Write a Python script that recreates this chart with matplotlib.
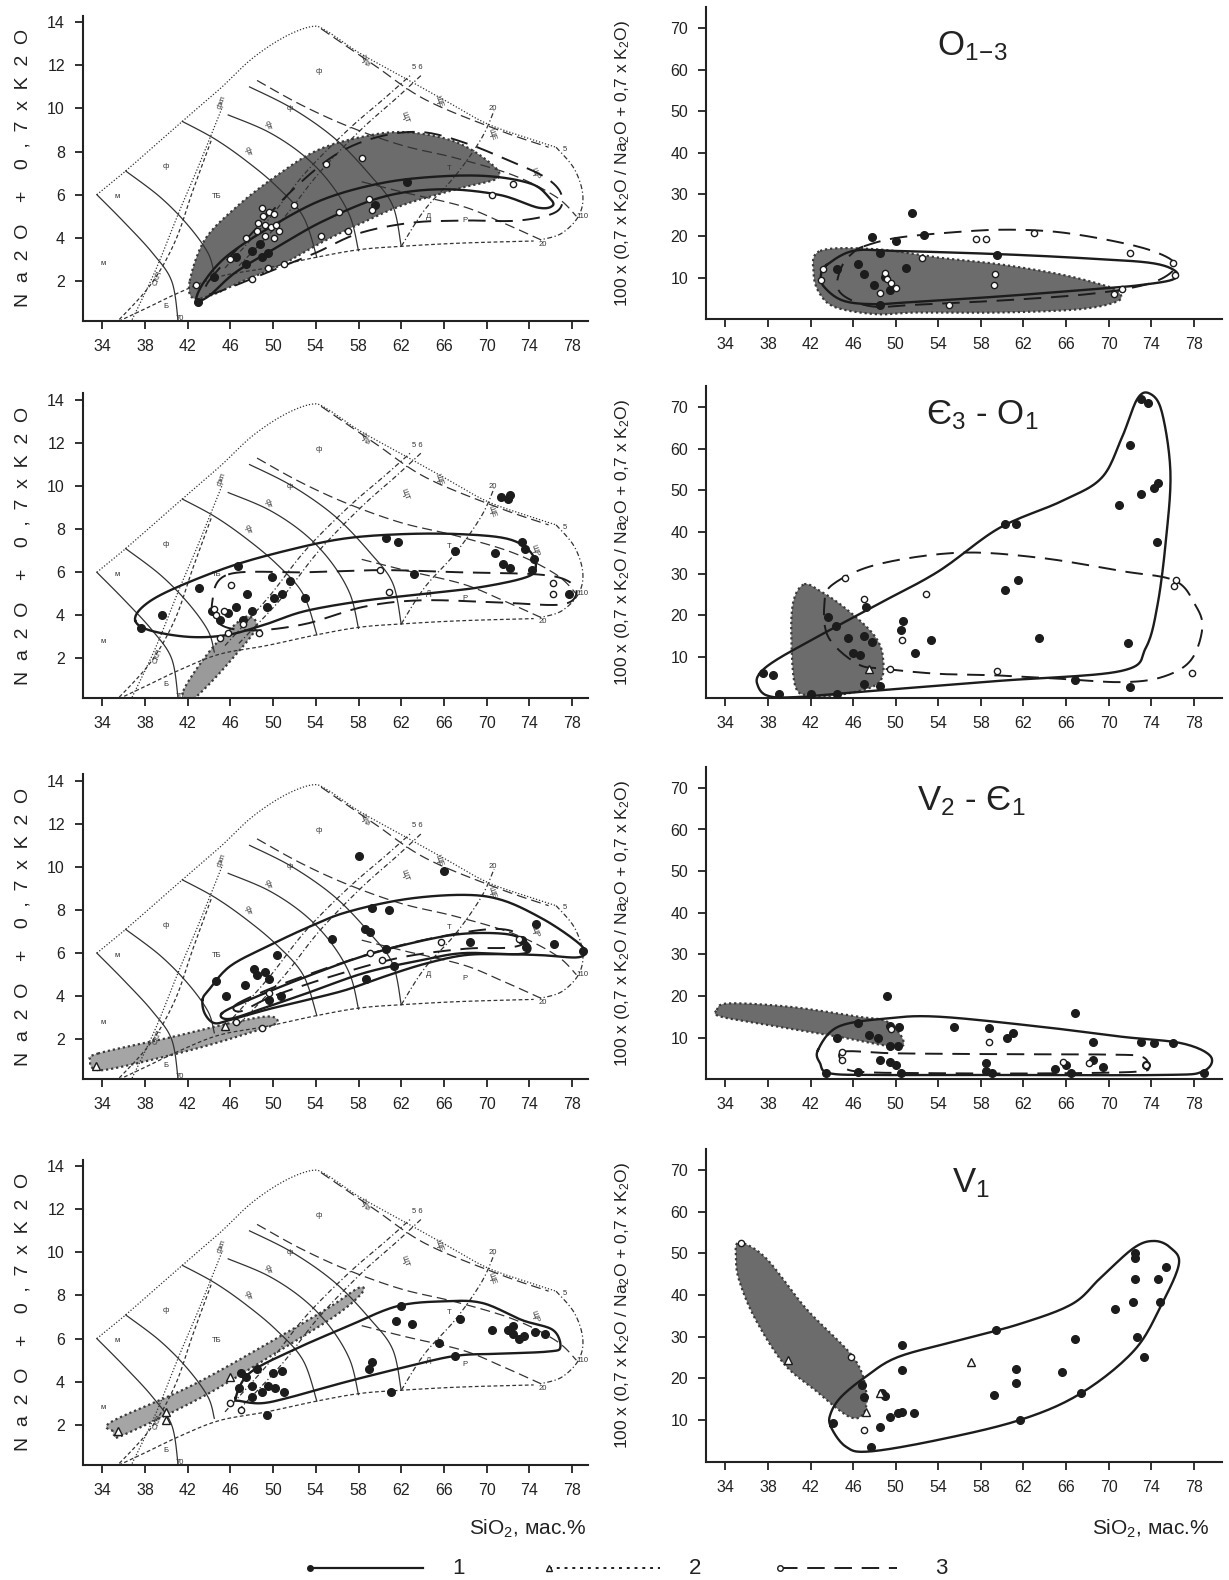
# -*- coding: utf-8 -*-
"""
Na2O+0.7K2O vs SiO2 classification plots (left) and potassium ratio vs SiO2 (right)
for four age groups: O1-3, E3-O1, V2-E1, V1.
"""

import numpy as np
import matplotlib.pyplot as plt
from matplotlib.lines import Line2D

plt.rcParams['font.family'] = ['Liberation Sans', 'DejaVu Sans']
plt.rcParams['mathtext.fontset'] = 'custom'
plt.rcParams['mathtext.rm'] = 'Liberation Sans'
plt.rcParams['mathtext.it'] = 'Liberation Sans:italic'

SIO2_TICKS = [34, 38, 42, 46, 50, 54, 58, 62, 66, 70, 74, 78]
TAS_TICKS = [2, 4, 6, 8, 10, 12, 14]
RATIO_TICKS = [10, 20, 30, 40, 50, 60, 70]
TITLES = [r'$\mathregular{O_{1\!-\!3}}$', r'$\mathregular{Є_3}$ - $\mathregular{O_1}$',
          r'$\mathregular{V_2}$ - $\mathregular{Є_1}$', r'$\mathregular{V_1}$']

# ---- classification grid (same on every left panel) ----
BOUND_UP = [(33.5, 6.0), (36.2, 7.1), (41.5, 9.4), (45, 10.9), (48, 12.3), (51, 13.3), (53.6, 13.8),
            (55, 13.6), (58, 12.6), (62, 11.5), (66, 10.4), (70, 9.3), (74, 8.6), (76.5, 8.2)]
BOUND_RIGHT = [(76.5, 8.2), (78.2, 7.2), (79.0, 6.0), (78.6, 5.0), (77.0, 4.2), (75.0, 3.9)]
BOUND_LOW = [(35, 0.0), (38, 0.7), (41.4, 1.5), (45, 2.2), (49.4, 2.6), (54.1, 3.1), (58.1, 3.45),
             (61.9, 3.6), (67.5, 3.75), (74.4, 3.85)]
ISO_1 = [(33.5, 6.0), (36.1, 4.7), (38.7, 3.3), (40.5, 2.0), (41.1, 0.2)]
ISO_2 = [(36.2, 7.1), (39.4, 5.9), (42.0, 4.6), (43.9, 3.3), (44.5, 2.3)]
ISO_3 = [(41.5, 9.4), (44.5, 8.6), (47.4, 7.6), (50.3, 6.4), (52.8, 5.0), (54.1, 3.1)]
ISO_4 = [(45.8, 9.7), (49.6, 8.9), (52.9, 7.8), (55.4, 6.5), (57.2, 5.0), (58.0, 3.4)]
ISO_5 = [(47.8, 11.0), (51.8, 10.0), (55.8, 8.6), (59.1, 6.9), (61.2, 5.5), (62.0, 3.6)]
LDASH_A = [(54.5, 13.7), (59.5, 12.0), (64.3, 10.4), (71.1, 9.0), (75.8, 8.2)]
LDASH_B = [(48.5, 11.3), (52.5, 10.2), (56.9, 9.2), (62, 8.3), (67.1, 7.7), (72.5, 6.9), (76.5, 5.9), (78.4, 5.0)]
LDASH_C = [(58.3, 6.6), (62.3, 6.1), (67.8, 5.45), (71.5, 4.7), (75.1, 3.9)]
DOT_DIAG = [(36.8, 0.2), (39.0, 2.5), (41.2, 5.2), (43.0, 7.3), (45.2, 10.0)]
SDASH_DIAG = [(35.2, 0.0), (38.5, 1.8), (40.8, 3.8), (42.5, 6.2), (44.2, 8.5)]
DASHDOT_A = [(45.5, 2.6), (49.5, 4.8), (53, 7.0), (57, 9.0), (60.5, 10.5), (63, 11.6)]
DASHDOT_B = [(46.8, 2.7), (50.8, 4.8), (54.3, 7.0), (58.2, 9.0), (61.6, 10.5), (64, 11.6)]
DASHDOT_C = [(62, 3.6), (64.2, 5.3), (67.1, 6.9), (69.5, 8.6), (70.7, 9.9)]
GRID_TEXT = ['м', 'м', 'ф', 'ТБ', 'фт', 'фт', 'ф', 'ф', 'ЩФ', 'ЩТ', 'ЩЕ', 'ЩЕ', 'ЩР', 'Т', 'Д', 'Р',
             'фкп', 'СКП', 'Б', '70', '5', '110', '20', '20', '5 6']
GRID_TEXT_X = [35.4, 34.1, 40.0, 44.7, 47.6, 49.5, 51.6, 54.3, 58.5, 62.3, 65.5, 70.5, 74.5, 66.5, 64.6, 68.0,
               45.2, 39.2, 40.0, 41.3, 77.3, 79.0, 75.3, 70.6, 63.5]
GRID_TEXT_Y = [5.9, 2.8, 7.3, 5.9, 8.0, 9.2, 10.0, 11.7, 12.2, 9.6, 10.3, 8.8, 7.0, 7.2, 5.0, 4.8,
               10.3, 2.1, 0.8, 0.25, 8.1, 5.0, 3.7, 10.0, 11.9]
GRID_TEXT_ROT = [0, 0, 0, 0, -70, -70, 0, 0, -70, -70, -70, -70, -70, 0, 0, 0, 70, 70, 0, 0, 0, 0, 0, 0, 0]

# ---- panel 1 : O1-3 ----
P1_FIELD = [(42.2, 2.0), (43.6, 3.9), (46.5, 5.4), (50.1, 6.8), (54.1, 8.05), (58.5, 8.7), (62.4, 8.9),
            (66.8, 8.5), (70.0, 7.6), (71.1, 6.8), (67.5, 6.3), (62.4, 5.56), (58.8, 4.8), (54.8, 3.85),
            (50.8, 2.75), (47.2, 2.0), (44.3, 1.35), (42.5, 1.2)]
P1_SOLID = [(42.8, 1.1), (43.6, 2.0), (45.8, 3.2), (50.1, 4.6), (54.8, 5.8), (60.3, 6.55), (65.7, 6.85),
            (70.4, 6.85), (74.2, 6.5), (75.8, 5.9), (76.2, 5.5), (74.8, 5.4), (71.1, 6.0), (65.7, 6.25),
            (60.3, 5.9), (54.8, 4.8), (50.5, 3.6), (46.5, 2.4), (44.0, 1.3)]
P1_DASH = [(44, 2.0), (48, 4.2), (52, 6.3), (56, 7.9), (60, 8.7), (64, 8.9), (68, 8.4), (72, 7.6), (75.5, 6.8),
           (77, 6.0), (76.5, 5.2), (73, 4.8), (68, 4.8), (63, 4.7), (58, 4.2), (54, 3.3), (50, 2.5),
           (46, 1.7), (44, 1.4)]
P1_FILL_X = [43.0, 46.5, 47.5, 48.0, 48.8, 49.0, 49.5, 59.5, 62.5, 44.5]
P1_FILL_Y = [1.0, 3.1, 2.8, 3.4, 3.7, 3.1, 3.3, 5.5, 6.6, 2.2]
P1_OPEN_X = [49.0, 49.6, 50.1, 49.1, 48.6, 49.2, 49.8, 50.3, 50.6, 48.5, 49.2, 50.1, 47.5, 46.0, 49.5, 48.0,
             51.0, 54.5, 56.2, 55.0, 58.3, 59.0, 59.3, 57.0, 70.5, 72.5, 42.8, 52.0]
P1_OPEN_Y = [5.4, 5.2, 5.1, 5.0, 4.7, 4.6, 4.5, 4.6, 4.3, 4.3, 4.1, 4.0, 4.0, 3.0, 2.6, 2.1,
             2.8, 4.1, 5.2, 7.4, 7.7, 5.8, 5.3, 4.3, 6.0, 6.5, 1.8, 5.5]
R1_FIELD = [(42.9, 16.4), (48.2, 16.8), (54.0, 14.8), (59.7, 13.2), (65.4, 10.8), (69.2, 8.4), (70.8, 6.8),
            (70.9, 4.4), (67.3, 2.4), (59.7, 1.6), (52.0, 1.6), (48.2, 1.2), (44.4, 2.8), (42.9, 6.0), (42.3, 10.8)]
R1_SOLID = [(43.5, 13), (46, 16.4), (50, 16.4), (60, 15.6), (68, 14.6), (74, 13.5), (76.3, 11.5), (76, 9.5),
            (73, 8.2), (70, 7.5), (60, 5.5), (52, 4.2), (48, 3.6), (45, 4.5), (43.2, 8), (43, 11)]
R1_DASH = [(47, 17.5), (50, 19.5), (55, 20.8), (60, 21.5), (65, 21), (70, 19), (74, 16.5), (76.2, 13.5),
           (75.5, 10.5), (73, 8), (68, 6), (60, 4.5), (52, 3.5), (48, 3), (45.5, 5), (44.5, 8), (45, 13), (46, 16)]
R1_FILL_X = [51.5, 47.8, 50.0, 52.7, 59.5, 46.5, 47.0, 48.0, 51.0, 48.5, 49.0, 49.5, 48.5, 44.5]
R1_FILL_Y = [25.5, 19.7, 18.8, 20.3, 15.5, 13.2, 10.8, 8.2, 12.3, 15.8, 10.2, 7.0, 3.5, 12.0]
R1_OPEN_X = [57.5, 58.5, 63.0, 72.0, 76.0, 59.3, 59.2, 49.0, 49.2, 49.6, 50.0, 43.0, 43.2, 70.5, 55.0,
             52.5, 76.2, 71.3, 48.5]
R1_OPEN_Y = [19.3, 19.3, 20.6, 16.0, 13.6, 10.8, 8.2, 11.0, 9.6, 8.6, 7.6, 9.5, 12.0, 6.0, 3.5,
             14.8, 10.5, 7.3, 6.3]

# ---- panel 2 : E3-O1 ----
P2_FIELD = [(41.6, 0.5), (44.0, 2.3), (46.5, 3.6), (47.8, 3.95), (48.4, 3.4), (46.2, 2.0), (43.6, 0.6),
            (42.3, 0.1)]
P2_SOLID = [(37.1, 3.75), (37.8, 4.4), (40.3, 5.15), (45.8, 6.24), (51.2, 7.0), (56.6, 7.56), (62.1, 7.77),
            (67.5, 7.77), (71.9, 7.56), (74.0, 7.0), (74.6, 6.24), (73.7, 5.77), (69.3, 5.3), (63.9, 4.99),
            (58.5, 4.68), (53.0, 4.2), (49.4, 3.6), (45.8, 3.1), (42.2, 3.0), (38.5, 3.3)]
P2_DASH = [(45.8, 5.9), (53, 6.0), (60.3, 6.1), (67.5, 6.0), (74.8, 5.9), (77.6, 5.6), (78.4, 5.0),
           (76.9, 4.5), (71.1, 4.6), (63.9, 4.7), (58.5, 4.4), (53, 3.6), (48, 3.3), (45, 3.6), (44.3, 4.6)]
P2_FILL_X = [46.7, 43.1, 39.6, 37.6, 47.6, 46.5, 45.8, 44.3, 45.0, 47.2, 48.0, 49.4, 50.1, 50.8, 51.6, 53.0,
             49.9, 60.6, 61.7, 67.0, 63.2, 70.8, 71.5, 72.2, 73.3, 73.6, 74.4, 74.2, 71.3, 72.2, 72.0, 77.7]
P2_FILL_Y = [6.3, 5.25, 4.0, 3.4, 5.0, 4.4, 4.1, 4.2, 3.8, 3.8, 4.2, 4.4, 4.8, 5.0, 5.6, 4.8,
             5.8, 7.6, 7.4, 7.0, 5.9, 6.9, 6.4, 6.2, 7.4, 7.1, 6.6, 6.1, 9.5, 9.6, 9.4, 5.0]
P2_OPEN_X = [46.1, 44.5, 44.7, 45.4, 47.2, 60.0, 60.9, 76.2, 76.2, 45.8, 48.7, 45.0]
P2_OPEN_Y = [5.4, 4.3, 4.0, 4.2, 3.6, 6.1, 5.1, 5.5, 5.0, 3.2, 3.2, 2.95]
R2_FIELD = [(41.4, 27.4), (42.9, 25.8), (45.2, 21.8), (47.9, 15.4), (48.8, 9.9), (48.3, 3.5), (44.4, 0.7),
            (42.1, 0.7), (40.6, 2.7), (40.2, 14.6), (40.4, 23.4)]
R2_SOLID = [(37.2, 5.9), (38.7, 9.1), (42.5, 14.6), (48.3, 22.6), (54.0, 30.5), (59.7, 40.9), (65.5, 47.3),
            (69.3, 52.9), (71.2, 62.4), (72.7, 72.0), (73.9, 73.2), (75.0, 68.8), (75.8, 54.5), (75.4, 38.5),
            (74.6, 22.6), (73.5, 12.2), (71.2, 6.6), (59.7, 4.2), (48.3, 1.9), (40.6, 0.3), (37.9, 0.7), (37.0, 3.4)]
R2_DASH = [(44.1, 27.4), (48.3, 32.2), (55.9, 35.0), (63.5, 33.8), (71.2, 30.6), (76.2, 28.3), (78.1, 22.6),
           (78.8, 17.0), (77.7, 9.1), (75.0, 5.1), (71.2, 3.9), (65.5, 4.7), (59.7, 5.5), (54.0, 5.9),
           (49.0, 7.1), (46.4, 8.3), (43.7, 14.6), (43.3, 22.6)]
R2_FILL_X = [73.0, 73.7, 72.0, 71.0, 73.0, 74.3, 74.6, 74.5, 60.3, 61.3, 60.3, 61.5, 63.5, 53.3, 51.8, 50.7,
             50.5, 47.2, 47.0, 47.8, 46.0, 46.6, 47.0, 48.5, 38.5, 37.5, 39.0, 42.0, 44.5, 72.0, 71.8, 66.8,
             43.6, 44.4, 45.5]
R2_FILL_Y = [72, 71, 61, 46.5, 49, 50.5, 51.8, 37.5, 42, 41.8, 26, 28.5, 14.5, 14, 11, 18.5,
             16.5, 22, 15, 13.5, 11, 10.5, 3.5, 3, 5.5, 6, 1, 1, 1, 2.8, 13.2, 4.5,
             19.5, 17.5, 14.5]
R2_OPEN_X = [45.2, 47.0, 52.8, 50.6, 76.3, 76.1, 77.8, 59.5, 49.5]
R2_OPEN_Y = [29.0, 24.0, 25.0, 14.0, 28.5, 27.0, 6.0, 6.5, 7.0]
R2_TRI_X = [47.5]
R2_TRI_Y = [7.0]

# ---- panel 3 : V2-E1 ----
P3_FIELD = [(33.6, 1.34), (40.5, 2.1), (46.0, 2.75), (49.6, 3.06), (50.3, 2.75), (47.8, 2.3), (42.3, 1.5),
            (35.0, 0.64), (33.2, 0.64), (32.9, 1.0)]
P3_SOLID = [(43.4, 3.84), (44.0, 4.3), (46.0, 5.4), (49.6, 6.34), (53.3, 7.2), (56.9, 7.9), (62.4, 8.5),
            (67.9, 8.7), (71.5, 8.45), (75.2, 7.6), (78.1, 6.66), (79.2, 6.1), (78.5, 5.8), (75.2, 5.9),
            (71.5, 5.95), (67.9, 5.9), (64.2, 5.5), (60.6, 4.94), (56.9, 4.3), (53.3, 3.84), (49.6, 3.4),
            (46.0, 2.9), (44.5, 2.75), (43.6, 3.2)]
P3_SOLID_IN = [(45.2, 3.2), (47.8, 3.84), (53.3, 4.94), (58.7, 5.9), (64.2, 6.6), (67.9, 6.9), (71.5, 6.9),
               (73.3, 6.66), (74.1, 6.2), (73.0, 5.95), (67.9, 6.0), (64.2, 5.7), (58.7, 5.1), (53.3, 4.16),
               (49.6, 3.53), (46.0, 2.95)]
P3_DASH = [(46.5, 3.6), (50, 4.4), (55, 5.3), (60, 6.1), (65, 6.7), (70, 7.1), (72.5, 7.0), (73.5, 6.5),
           (72, 6.25), (68, 6.2), (62, 5.8), (56, 5.0), (50, 4.0), (47, 3.3)]
P3_FILL_X = [44.7, 45.6, 47.4, 48.2, 48.5, 49.6, 49.2, 50.7, 49.6, 50.4, 55.5, 58.6, 59.1, 59.3, 60.9,
             58.0, 66.0, 60.6, 58.7, 68.4, 73.3, 73.7, 74.6, 76.3, 79.0, 61.3]
P3_FILL_Y = [4.7, 4.0, 4.5, 5.25, 5.0, 4.8, 5.1, 4.0, 3.84, 5.9, 6.66, 7.1, 7.0, 8.1, 8.0,
             10.5, 9.8, 6.2, 4.8, 6.5, 6.6, 6.3, 7.36, 6.4, 6.1, 5.4]
P3_OPEN_X = [65.7, 73.0, 59.1, 60.2, 49.6, 49.0, 46.5]
P3_OPEN_Y = [6.5, 6.66, 6.0, 5.7, 4.16, 2.5, 2.8]
P3_TRI_X = [33.4, 45.5]
P3_TRI_Y = [0.75, 2.6]
R3_FIELD = [(33.2, 16.6), (34.3, 18.2), (40.0, 17.4), (46.5, 15.0), (49.2, 13.8), (50.7, 9.4), (49.9, 7.8),
            (44.6, 10.2), (38.9, 12.6), (33.6, 15.0)]
R3_SOLID = [(42.7, 7.0), (44.6, 12.6), (49.2, 14.6), (54.1, 15.0), (63.6, 12.6), (71.2, 10.2), (76.9, 8.6),
            (79.6, 5.4), (78.8, 1.8), (75.0, 1.0), (59.8, 1.0), (48.4, 1.0), (43.8, 1.4), (42.9, 3.8)]
R3_DASH = [(45.1, 6.6), (50, 6.2), (60, 6.0), (70, 5.9), (73.1, 5.4), (73.7, 3.0), (72.7, 1.8), (65, 1.4),
           (55, 1.4), (46.5, 1.8), (45.1, 3.8)]
R3_FILL_X = [49.2, 66.8, 55.5, 58.8, 60.5, 61.0, 68.5, 73.0, 74.3, 76.0, 49.5, 50.3, 48.3, 49.5, 50.2, 47.5,
             44.5, 46.5, 43.5, 46.5, 50.0, 48.5, 50.5, 58.5, 59.0, 58.5, 66.0, 66.5, 69.5, 73.5, 79.0, 68.5,
             65.0, 49.5]
R3_FILL_Y = [20, 15.8, 12.5, 12.3, 10, 11, 9, 9, 8.6, 8.6, 12.8, 12.6, 10, 8, 8, 10.5,
             10, 13.5, 1.5, 1.8, 3.5, 4.5, 1.5, 2, 1.5, 3.8, 3.5, 1.5, 3, 3.3, 1.5, 4.5,
             2.5, 4.2]
R3_OPEN_X = [49.6, 58.8, 45.0, 45.0, 65.7, 68.2, 73.5]
R3_OPEN_Y = [12.0, 9.0, 6.5, 4.5, 4.0, 3.9, 3.5]

# ---- panel 4 : V1 ----
P4_FIELD = [(35.0, 1.7), (34.9, 2.15), (42.3, 3.8), (49.6, 5.8), (55.1, 7.4), (58.0, 8.35), (58.3, 8.1),
            (55.8, 7.05), (50.3, 5.35), (43.4, 3.3), (36.1, 1.55), (35.2, 1.5)]
P4_SOLID = [(46.5, 3.26), (47.8, 4.4), (51.8, 5.45), (56.9, 6.55), (61.6, 7.5), (66.0, 7.73), (69.6, 7.65),
            (73.3, 6.86), (76.2, 6.4), (76.9, 5.6), (75.8, 5.4), (71.4, 5.3), (67.1, 5.2), (62.3, 4.67),
            (56.9, 4.0), (51.4, 3.25), (48.9, 3.0), (47.0, 3.1)]
P4_FILL_X = [47.0, 47.5, 48.5, 50.0, 50.8, 48.0, 49.0, 49.5, 50.2, 51.0, 48.0, 46.8, 49.4, 59.3, 59.0, 61.0,
             62.0, 61.5, 63.0, 65.5, 67.5, 72.0, 72.5, 72.5, 73.0, 73.5, 74.5, 75.5, 70.5, 67.0]
P4_FILL_Y = [4.4, 4.2, 4.6, 4.4, 4.5, 3.8, 3.5, 3.8, 3.7, 3.5, 3.3, 3.7, 2.47, 4.9, 4.6, 3.5,
             7.5, 6.8, 6.7, 5.8, 6.9, 6.4, 6.6, 6.2, 6.0, 6.1, 6.3, 6.2, 6.4, 5.2]
P4_OPEN_X = [46.0, 47.0]
P4_OPEN_Y = [3.0, 2.7]
P4_TRI_X = [46.0, 40.0, 40.0, 35.5]
P4_TRI_Y = [4.2, 2.6, 2.2, 1.7]
R4_FIELD = [(35.3, 52.6), (37.8, 48.9), (41.6, 36.7), (46.0, 25.1), (47.2, 17.2), (47.0, 11.6), (45.6, 10.8),
            (42.5, 17.0), (39.5, 23.5), (36.8, 34.3), (35.3, 43.5), (35.0, 49.0)]
R4_SOLID = [(43.9, 8.4), (45.3, 3.6), (47.5, 2.4), (54.0, 5.2), (61.7, 10.0), (67.4, 16.4), (72.4, 26.7),
            (75.0, 37.9), (76.6, 47.5), (75.8, 51.4), (74.3, 53.0), (72.4, 51.4), (69.3, 44.3), (66.6, 37.9),
            (61.7, 33.1), (55.9, 29.1), (50.2, 25.1), (47.2, 20.4), (44.9, 15.6), (43.9, 11.6)]
R4_FILL_X = [46.8, 47.0, 44.1, 47.7, 48.5, 48.7, 49.0, 49.5, 50.2, 50.6, 51.7, 50.6, 50.6, 59.4, 59.2, 61.3,
             61.3, 61.7, 65.6, 66.8, 67.4, 70.6, 72.5, 72.5, 72.5, 72.3, 72.7, 73.3, 74.6, 74.8, 75.4]
R4_FILL_Y = [18.4, 15.6, 9.2, 3.6, 8.4, 16.4, 15.8, 10.8, 11.6, 12.0, 11.6, 27.9, 21.9, 31.7, 15.9, 22.3,
             18.8, 10.0, 21.6, 29.5, 16.4, 36.7, 50.2, 49.0, 43.9, 38.3, 29.9, 25.1, 43.9, 38.3, 46.7]
R4_OPEN_X = [35.5, 45.8, 47.0]
R4_OPEN_Y = [52.6, 25.1, 7.6]
R4_TRI_X = [39.9, 47.2, 57.1, 48.5]
R4_TRI_Y = [24.3, 12.0, 23.9, 16.5]

INK = '#1c1c1c'


def smooth(pts, closed=False, n=14):
    """Catmull-Rom through the read-off points."""
    p = np.asarray(pts, float)
    if closed:
        p = np.vstack([p[-1], p, p[0], p[1]])
    else:
        p = np.vstack([p[0], p, p[-1]])
    t = np.linspace(0, 1, n, endpoint=False)[:, None]
    out = []
    for i in range(1, len(p) - 2):
        p0, p1, p2, p3 = p[i - 1], p[i], p[i + 1], p[i + 2]
        out.append(0.5 * (2 * p1 + (-p0 + p2) * t + (2 * p0 - 5 * p1 + 4 * p2 - p3) * t ** 2
                          + (-p0 + 3 * p1 - 3 * p2 + p3) * t ** 3))
    out.append(p[-2][None])
    return np.vstack(out)


def field(ax, pts, color):
    xy = smooth(pts, True)
    ax.fill(xy[:, 0], xy[:, 1], color=color, lw=0, zorder=1)
    ax.plot(xy[:, 0], xy[:, 1], color='#3a3a3a', ls=(0, (1, 1.3)), lw=1.6, zorder=2)


def outline(ax, pts, dashed=False):
    xy = smooth(pts, True)
    if dashed:
        ax.plot(xy[:, 0], xy[:, 1], color=INK, lw=1.4, ls=(0, (9, 5)), zorder=3)
    else:
        ax.plot(xy[:, 0], xy[:, 1], color=INK, lw=1.7, zorder=3)


def points(ax, fx, fy, ox=(), oy=(), tx=(), ty=()):
    ax.plot(fx, fy, 'o', ms=5.5, mfc=INK, mec=INK, zorder=4)
    ax.plot(ox, oy, 'o', ms=4.5, mfc='white', mec=INK, mew=1.0, zorder=4)
    ax.plot(tx, ty, '^', ms=6, mfc='white', mec=INK, mew=1.0, zorder=4)


def tas_grid(ax):
    thin = dict(color='#333333', lw=0.9, zorder=1.5)
    ax.plot(*smooth(BOUND_UP).T, ls=(0, (1, 1.5)), **thin)
    ax.plot(*smooth(BOUND_RIGHT).T, ls=(0, (4, 2, 1, 2)), **thin)
    ax.plot(*smooth(BOUND_LOW).T, ls=(0, (3, 2)), **thin)
    for line in [ISO_1, ISO_2, ISO_3, ISO_4, ISO_5]:
        ax.plot(*smooth(line).T, ls='-', **thin)
    for line in [LDASH_A, LDASH_B, LDASH_C]:
        ax.plot(*smooth(line).T, ls=(0, (8, 4)), **thin)
    ax.plot(*smooth(DOT_DIAG).T, ls=(0, (1, 1.5)), **thin)
    ax.plot(*smooth(SDASH_DIAG).T, ls=(0, (3, 2)), **thin)
    for line in [DASHDOT_A, DASHDOT_B, DASHDOT_C]:
        ax.plot(*smooth(line).T, ls=(0, (4, 2, 1, 2)), **thin)
    for s, x, y, r in zip(GRID_TEXT, GRID_TEXT_X, GRID_TEXT_Y, GRID_TEXT_ROT):
        ax.text(x, y, s, fontsize=5.5, rotation=r, color='#333333', ha='center', va='center', zorder=1.6)


def style(ax, left):
    for s in ['top', 'right']:
        ax.spines[s].set_visible(False)
    for s in ['left', 'bottom']:
        ax.spines[s].set_linewidth(1.5)
        ax.spines[s].set_color('#222222')
    ax.set_xticks(SIO2_TICKS)
    ax.tick_params(direction='out', length=6, width=1.3, labelsize=11.5, pad=7, colors='#222222')
    if left:
        ax.set_xlim(32.2, 79.45)
        ax.set_ylim(0.15, 14.3)
        ax.set_yticks(TAS_TICKS)
        ax.text(-0.118, 0.5, 'N  a  2  O    +    0  ,  7  x  K  2  O', transform=ax.transAxes,
                rotation=90, ha='center', va='center', fontsize=14, color='#222222')
    else:
        ax.set_xlim(32.2, 80.6)
        ax.set_ylim(0, 75)
        ax.set_yticks(RATIO_TICKS)
        ax.text(-0.162, 0.5, r'100 x (0,7 x K$_2$O / Na$_2$O + 0,7 x K$_2$O)', transform=ax.transAxes,
                rotation=90, ha='center', va='center', fontsize=12.5, color='#222222')


fig = plt.figure(figsize=(12.29, 15.80), dpi=100)

left_bottoms = [0.797, 0.558, 0.317, 0.073]
right_bottoms = [0.798, 0.558, 0.317, 0.075]
title_pos = [(0.791, 0.971), (0.799, 0.737), (0.790, 0.493), (0.790, 0.251)]

left_sets = [
    (P1_FIELD, '#6c6c6c', [P1_SOLID], [P1_DASH], (P1_FILL_X, P1_FILL_Y, P1_OPEN_X, P1_OPEN_Y)),
    (P2_FIELD, '#9a9a9a', [P2_SOLID], [P2_DASH], (P2_FILL_X, P2_FILL_Y, P2_OPEN_X, P2_OPEN_Y)),
    (P3_FIELD, '#a5a5a5', [P3_SOLID, P3_SOLID_IN], [P3_DASH],
     (P3_FILL_X, P3_FILL_Y, P3_OPEN_X, P3_OPEN_Y, P3_TRI_X, P3_TRI_Y)),
    (P4_FIELD, '#a5a5a5', [P4_SOLID], [], (P4_FILL_X, P4_FILL_Y, P4_OPEN_X, P4_OPEN_Y, P4_TRI_X, P4_TRI_Y)),
]
right_sets = [
    (R1_FIELD, [R1_SOLID], [R1_DASH], (R1_FILL_X, R1_FILL_Y, R1_OPEN_X, R1_OPEN_Y)),
    (R2_FIELD, [R2_SOLID], [R2_DASH], (R2_FILL_X, R2_FILL_Y, R2_OPEN_X, R2_OPEN_Y, R2_TRI_X, R2_TRI_Y)),
    (R3_FIELD, [R3_SOLID], [R3_DASH], (R3_FILL_X, R3_FILL_Y, R3_OPEN_X, R3_OPEN_Y)),
    (R4_FIELD, [R4_SOLID], [], (R4_FILL_X, R4_FILL_Y, R4_OPEN_X, R4_OPEN_Y, R4_TRI_X, R4_TRI_Y)),
]

for i in range(4):
    ax = fig.add_axes([0.0675, left_bottoms[i], 0.4106, 0.193])
    fld, col, sol, dsh, pts = left_sets[i]
    tas_grid(ax)
    field(ax, fld, col)
    for c in sol:
        outline(ax, c)
    for c in dsh:
        outline(ax, c, dashed=True)
    points(ax, *pts)
    style(ax, True)

    ax = fig.add_axes([0.5746, right_bottoms[i], 0.4193, 0.1975])
    fld, sol, dsh, pts = right_sets[i]
    field(ax, fld, '#6c6c6c')
    for c in sol:
        outline(ax, c)
    for c in dsh:
        outline(ax, c, dashed=True)
    points(ax, *pts)
    style(ax, False)

    fig.text(title_pos[i][0], title_pos[i][1], TITLES[i], fontsize=25, ha='center', va='center',
             color='#222222')

fig.text(0.477, 0.0325, r'SiO$_2$, мас.%', fontsize=15, ha='right', va='center', color='#222222')
fig.text(0.984, 0.0325, r'SiO$_2$, мас.%', fontsize=15, ha='right', va='center', color='#222222')

# legend strip at the bottom
ly = 0.0075
fig.add_artist(Line2D([0.2525, 0.344], [ly, ly], color=INK, lw=1.6, transform=fig.transFigure))
fig.add_artist(Line2D([0.2525], [ly], marker='o', ms=4, color=INK, transform=fig.transFigure))
fig.add_artist(Line2D([0.4467, 0.537], [ly, ly], color=INK, lw=1.4, ls=(0, (1.5, 2.5)),
                      transform=fig.transFigure))
fig.add_artist(Line2D([0.4467], [ly], marker='^', ms=5, mfc='white', mec=INK, transform=fig.transFigure))
fig.add_artist(Line2D([0.635, 0.7295], [ly, ly], color=INK, lw=1.4, ls=(0, (9, 5)),
                      transform=fig.transFigure))
fig.add_artist(Line2D([0.635], [ly], marker='o', ms=4, mfc='white', mec=INK, transform=fig.transFigure))
for x, s in zip([0.373, 0.5656, 0.766], ['1', '2', '3']):
    fig.text(x, ly, s, fontsize=16, ha='center', va='center', color='#222222')

fig.savefig('out.png', dpi=100)
